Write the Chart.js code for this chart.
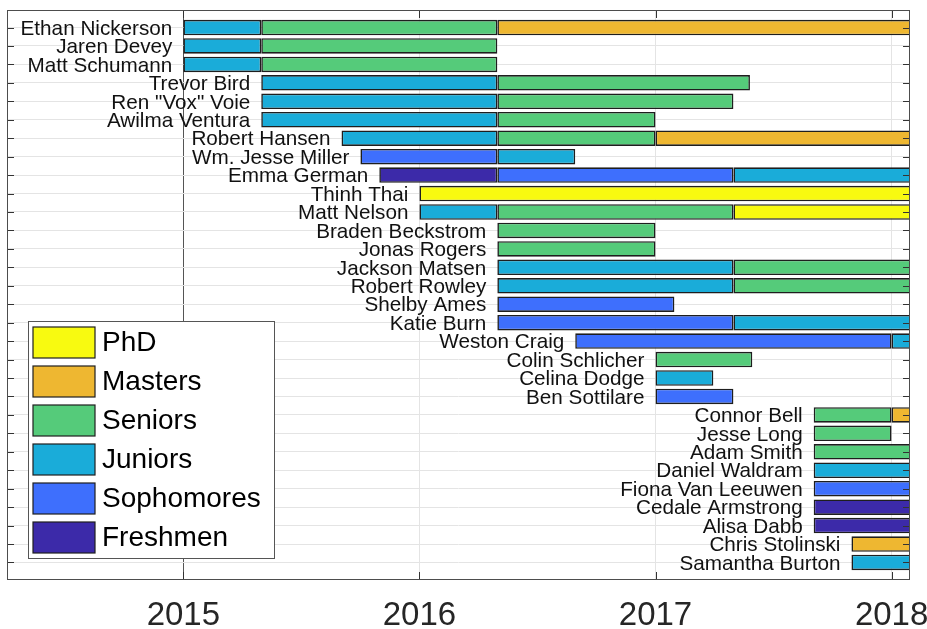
<!DOCTYPE html>
<html>
<head>
<meta charset="utf-8">
<script src="https://cdn.jsdelivr.net/npm/chart.js@4"></script>
<style>
  body { margin: 0; background: #fff; }
  #wrap { width: 927px; height: 629px; }
</style>
</head>
<body>
<div id="wrap"><canvas id="chart"></canvas></div>
<script>
const names = ['Ethan Nickerson', 'Jaren Devey', 'Matt Schumann', 'Trevor Bird', 'Ren "Vox" Voie',
  'Awilma Ventura', 'Robert Hansen', 'Wm. Jesse Miller', 'Emma German', 'Thinh Thai', 'Matt Nelson',
  'Braden Beckstrom', 'Jonas Rogers', 'Jackson Matsen', 'Robert Rowley', 'Shelby Ames', 'Katie Burn',
  'Weston Craig', 'Colin Schlicher', 'Celina Dodge', 'Ben Sottilare', 'Connor Bell', 'Jesse Long',
  'Adam Smith', 'Daniel Waldram', 'Fiona Van Leeuwen', 'Cedale Armstrong', 'Alisa Dabb',
  'Chris Stolinski', 'Samantha Burton'];

const years = [2015, 2016, 2017, 2018];
const NOW = 2018.3; // still in the group

const stages = ['PhD', 'Masters', 'Seniors', 'Juniors', 'Sophomores', 'Freshmen'];
const stageColors = ['#f8fa10', '#eeb731', '#55cb7a', '#1aacd9', '#3e6ffd', '#3c2aa9'];

// [name, start, end]
const phd = [
  ['Thinh Thai', 2016.0, NOW],
  ['Matt Nelson', 2017.33, NOW]
];
const masters = [
  ['Ethan Nickerson', 2016.33, NOW],
  ['Robert Hansen', 2017.0, NOW],
  ['Connor Bell', 2018.0, NOW],
  ['Chris Stolinski', 2017.83, NOW]
];
const seniors = [
  ['Ethan Nickerson', 2015.33, 2016.33],
  ['Jaren Devey', 2015.33, 2016.33],
  ['Matt Schumann', 2015.33, 2016.33],
  ['Trevor Bird', 2016.33, 2017.4],
  ['Ren "Vox" Voie', 2016.33, 2017.33],
  ['Awilma Ventura', 2016.33, 2017.0],
  ['Robert Hansen', 2016.33, 2017.0],
  ['Matt Nelson', 2016.33, 2017.33],
  ['Braden Beckstrom', 2016.33, 2017.0],
  ['Jonas Rogers', 2016.33, 2017.0],
  ['Jackson Matsen', 2017.33, NOW],
  ['Robert Rowley', 2017.33, NOW],
  ['Colin Schlicher', 2017.0, 2017.41],
  ['Connor Bell', 2017.67, 2018.0],
  ['Jesse Long', 2017.67, 2018.0],
  ['Adam Smith', 2017.67, NOW]
];
const juniors = [
  ['Ethan Nickerson', 2015.0, 2015.33],
  ['Jaren Devey', 2015.0, 2015.33],
  ['Matt Schumann', 2015.0, 2015.33],
  ['Trevor Bird', 2015.33, 2016.33],
  ['Ren "Vox" Voie', 2015.33, 2016.33],
  ['Awilma Ventura', 2015.33, 2016.33],
  ['Robert Hansen', 2015.67, 2016.33],
  ['Wm. Jesse Miller', 2016.33, 2016.66],
  ['Emma German', 2017.33, NOW],
  ['Matt Nelson', 2016.0, 2016.33],
  ['Jackson Matsen', 2016.33, 2017.33],
  ['Robert Rowley', 2016.33, 2017.33],
  ['Katie Burn', 2017.33, NOW],
  ['Weston Craig', 2018.0, NOW],
  ['Celina Dodge', 2017.0, 2017.245],
  ['Daniel Waldram', 2017.67, NOW],
  ['Samantha Burton', 2017.83, NOW]
];
const sophomores = [
  ['Wm. Jesse Miller', 2015.75, 2016.33],
  ['Emma German', 2016.33, 2017.33],
  ['Shelby Ames', 2016.33, 2017.08],
  ['Katie Burn', 2016.33, 2017.33],
  ['Weston Craig', 2016.66, 2018.0],
  ['Ben Sottilare', 2017.0, 2017.33],
  ['Fiona Van Leeuwen', 2017.67, NOW]
];
const freshmen = [
  ['Emma German', 2015.83, 2016.33],
  ['Cedale Armstrong', 2017.67, NOW],
  ['Alisa Dabb', 2017.67, NOW]
];

const stageData = [phd, masters, seniors, juniors, sophomores, freshmen];

const datasets = stages.map((s, k) => ({
  label: s,
  data: stageData[k].map(([n, a, b]) => ({ y: names.indexOf(n) + 1, x: [a, b] })),
  backgroundColor: stageColors[k],
  borderColor: '#1e1e1e',
  borderWidth: 1.6,
  borderSkipped: false,
  grouped: false,
  barPercentage: 0.84,
  categoryPercentage: 1,
  clip: 0
}));

function startOf(name) {
  let s = Infinity;
  stageData.forEach(list => list.forEach(([n, a]) => { if (n === name && a < s) s = a; }));
  return s;
}

const overlay = {
  id: 'overlay',
  afterDatasetsDraw(chart) {
    const { ctx, chartArea: a, scales: { x, y } } = chart;
    ctx.save();

    // inward tick marks
    ctx.strokeStyle = '#333';
    ctx.lineWidth = 1;
    ctx.beginPath();
    y.ticks.forEach(t => {
      const py = Math.round(y.getPixelForValue(t.value)) + 0.5;
      ctx.moveTo(a.left, py); ctx.lineTo(a.left + 7, py);
      ctx.moveTo(a.right - 7, py); ctx.lineTo(a.right, py);
    });
    x.ticks.forEach(t => {
      const px = Math.round(x.getPixelForValue(t.value)) + 0.5;
      ctx.moveTo(px, a.top); ctx.lineTo(px, a.top + 8);
      ctx.moveTo(px, a.bottom - 8); ctx.lineTo(px, a.bottom);
    });
    ctx.stroke();

    // axes box
    ctx.strokeStyle = '#4d4d4d';
    ctx.strokeRect(a.left + 0.5, a.top + 0.5, a.right - a.left - 1, a.bottom - a.top - 1);

    // student names next to their first bar
    ctx.font = '20.7px "Liberation Sans", Arial, sans-serif';
    ctx.fillStyle = '#111';
    ctx.textAlign = 'right';
    ctx.textBaseline = 'middle';
    names.forEach((n, i) => {
      ctx.fillText(n, x.getPixelForValue(startOf(n)) - 11, y.getPixelForValue(i + 1) + 1.5);
    });

    // legend box
    const lx = 28, ly = 321, lw = 246, lh = 237;
    ctx.fillStyle = '#fff';
    ctx.fillRect(lx, ly, lw, lh);
    ctx.strokeStyle = '#555';
    ctx.strokeRect(lx + 0.5, ly + 0.5, lw, lh);
    ctx.font = '28px "Liberation Sans", Arial, sans-serif';
    ctx.textAlign = 'left';
    stages.forEach((s, k) => {
      const cy = 342 + k * 39;
      ctx.fillStyle = stageColors[k];
      ctx.fillRect(33, cy - 15, 62, 31);
      ctx.strokeStyle = '#1e1e1e';
      ctx.lineWidth = 1.2;
      ctx.strokeRect(33, cy - 15, 62, 31);
      ctx.fillStyle = '#000';
      ctx.fillText(s, 102, cy + 1);
    });

    ctx.restore();
  }
};

new Chart(document.getElementById('chart'), {
  type: 'bar',
  data: { datasets },
  options: {
    indexAxis: 'y',
    responsive: true,
    maintainAspectRatio: false,
    animation: false,
    layout: { padding: { left: 7, right: 17, top: 10, bottom: 0 } },
    plugins: {
      legend: { display: false },
      tooltip: { enabled: false }
    },
    scales: {
      x: {
        type: 'linear',
        min: 2014.253,
        max: 2018.078,
        afterBuildTicks: s => { s.ticks = years.map(v => ({ value: v })); },
        afterFit: s => { s.height = 49; s.paddingLeft = 0; s.paddingRight = 0; },
        grid: {
          drawTicks: false,
          color: c => (c.tick && c.tick.value === 2015 ? '#555' : '#e4e4e4'),
          lineWidth: 1
        },
        border: { display: false },
        ticks: {
          maxRotation: 0,
          padding: 19,
          color: '#262626',
          font: { family: '"Liberation Sans", Arial, sans-serif', size: 33, lineHeight: 1 },
          callback: v => String(v)
        }
      },
      y: {
        type: 'linear',
        reverse: true,
        offset: false,
        min: 0.05,
        max: 30.95,
        afterBuildTicks: s => { s.ticks = names.map((n, i) => ({ value: i + 1 })); },
        afterFit: s => { s.width = 0; },
        grid: { drawTicks: false, color: '#e4e4e4', lineWidth: 1, offset: false },
        border: { display: false },
        ticks: { display: false }
      }
    }
  },
  plugins: [overlay]
});
</script>
</body>
</html>
